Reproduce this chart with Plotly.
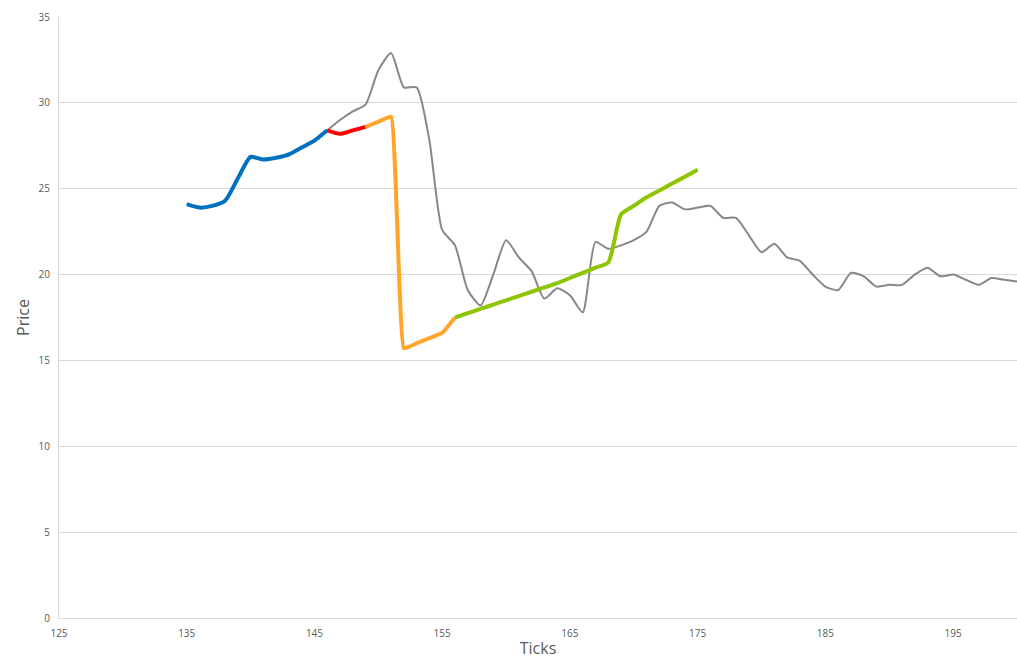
import plotly.graph_objects as go

# market price (grey) and forecast segments
price_ticks = list(range(146, 201))
price_values = [
    28.4, 29.0, 29.5, 29.9, 31.9, 32.9, 30.9, 30.9, 27.8, 22.6,
    21.7, 19.1, 18.2, 20.0, 22.0, 21.0, 20.2, 18.6, 19.2, 18.8,
    17.8, 21.9, 21.5, 21.7, 22.0, 22.5, 24.0, 24.2, 23.8, 23.9,
    24.0, 23.3, 23.3, 22.3, 21.3, 21.8, 21.0, 20.8, 20.0, 19.3,
    19.1, 20.1, 19.9, 19.3, 19.4, 19.4, 20.0, 20.4, 19.9, 20.0,
    19.7, 19.4, 19.8, 19.7, 19.6,
]

blue_ticks = list(range(135, 147))
blue_values = [24.1, 23.9, 24.0, 24.3, 25.6, 26.85, 26.7, 26.8, 27.0, 27.4, 27.8, 28.4]

red_ticks = [146, 147, 148, 149]
red_values = [28.4, 28.2, 28.4, 28.6]

orange_ticks = [149, 150, 151, 152, 153, 154, 155, 156]
orange_values = [28.6, 28.9, 29.2, 15.7, 16.0, 16.3, 16.6, 17.5]

green_ticks = list(range(156, 176))
green_values = [
    17.5, 17.75, 18.0, 18.25, 18.5, 18.75, 19.0, 19.25, 19.5, 19.8,
    20.1, 20.4, 20.7, 23.5, 24.0, 24.5, 24.9, 25.3, 25.7, 26.1,
]

x_tick_vals = [125, 135, 145, 155, 165, 175, 185, 195]
y_tick_vals = [0, 5, 10, 15, 20, 25, 30, 35]

FONT = "Open Sans"
AXIS_GREY = "#595959"

fig = go.Figure()


def add_line(x, y, color, width, smoothing=0.6):
    fig.add_trace(
        go.Scatter(
            x=x,
            y=y,
            mode="lines",
            line=dict(color=color, width=width, shape="spline", smoothing=smoothing),
            showlegend=False,
            hoverinfo="x+y",
        )
    )


add_line(price_ticks, price_values, "#878787", 2)
add_line(blue_ticks, blue_values, "#0070C0", 4)
add_line(red_ticks, red_values, "#FF0000", 4)
add_line(orange_ticks, orange_values, "#FFA52C", 4, smoothing=0.3)
add_line(green_ticks, green_values, "#8CC600", 4)

fig.update_layout(
    width=1017,
    height=659,
    margin=dict(l=59, r=0, t=17, b=41, autoexpand=False),
    plot_bgcolor="white",
    paper_bgcolor="white",
    font=dict(family=FONT, color=AXIS_GREY, size=10),
)
fig.update_xaxes(
    range=[125, 200],
    tickvals=x_tick_vals,
    showgrid=False,
    showline=True,
    linecolor="#d9d9d9",
    linewidth=1,
    zeroline=False,
    ticks="",
    ticklabelstandoff=6,
    tickfont=dict(size=10, color=AXIS_GREY),
    title=dict(text="Ticks", font=dict(size=16, color=AXIS_GREY), standoff=8),
    automargin=True,
)
fig.update_yaxes(
    range=[0, 35],
    tickvals=y_tick_vals,
    showgrid=True,
    gridcolor="#d9d9d9",
    gridwidth=1,
    showline=True,
    linecolor="#d9d9d9",
    linewidth=1,
    zeroline=False,
    ticks="",
    ticklabelstandoff=6,
    tickfont=dict(size=10, color=AXIS_GREY),
    title=dict(text="Price", font=dict(size=16, color=AXIS_GREY), standoff=4),
    automargin=False,
)

# drop the page's default body margin so the chart fills the window
fig.write_html(
    "out.html",
    config={"displayModeBar": False},
    post_script="document.body.style.margin='0';",
)
